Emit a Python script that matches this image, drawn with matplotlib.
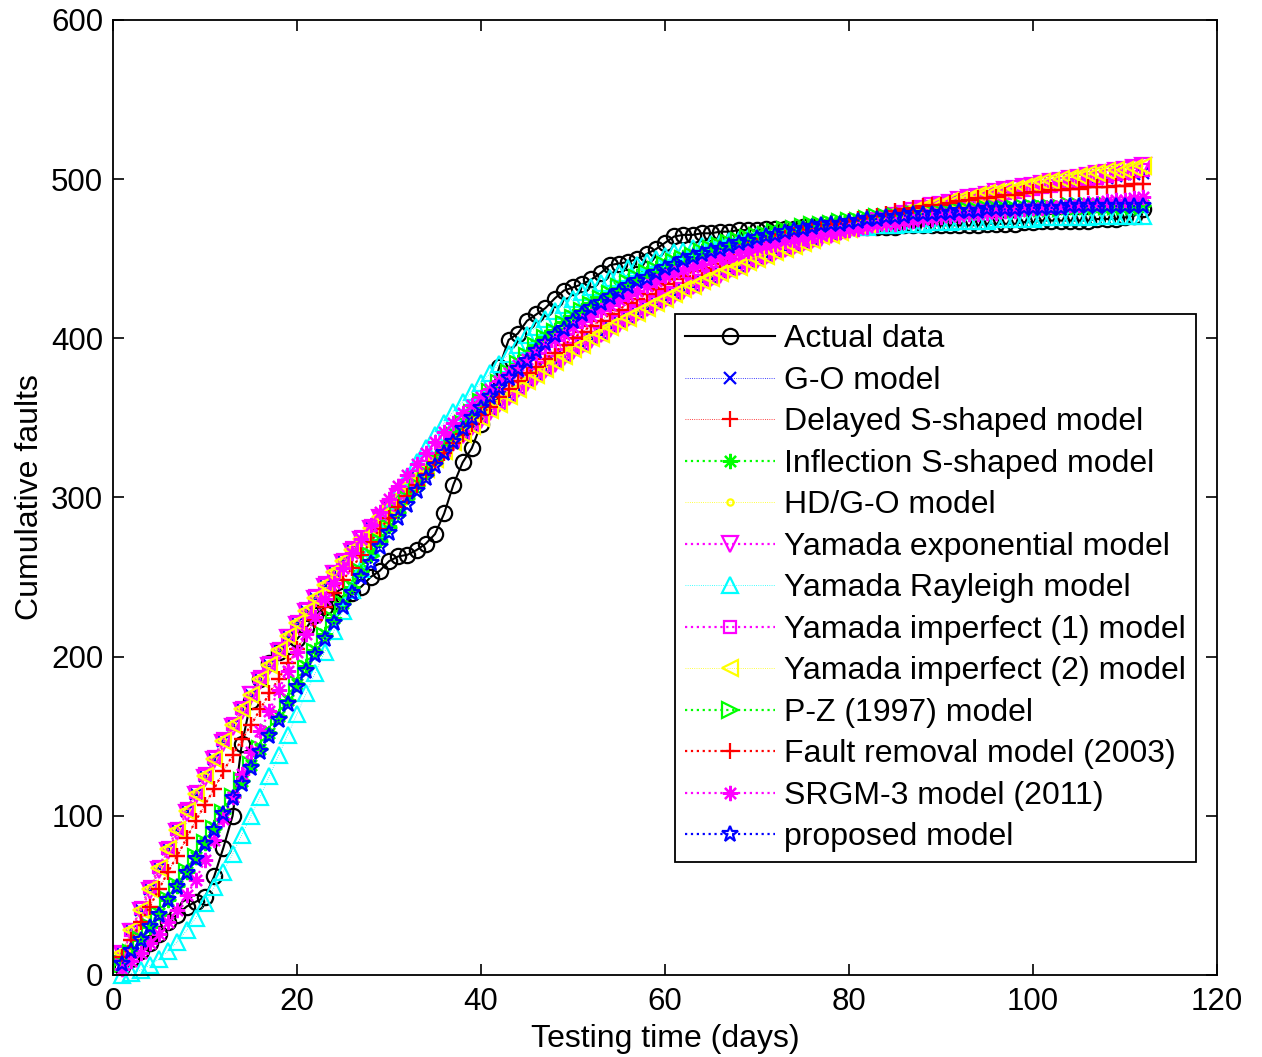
import matplotlib
matplotlib.use("Agg")
import matplotlib.pyplot as plt

plt.rcParams['font.family'] = ['Liberation Sans', 'DejaVu Sans']

days = list(range(1, 113))

actual_data = [5, 10, 15, 20, 26, 33, 38, 43, 46, 49,
               62, 80, 100, 145, 172, 186, 196, 203, 207, 211,
               218, 226, 231, 235, 238, 240, 244, 250, 254, 260,
               263, 264, 267, 271, 277, 290, 308, 322, 331, 346,
               364, 382, 399, 403, 411, 415, 419, 425, 430, 432,
               434, 437, 441, 446, 447, 448, 450, 453, 456, 460,
               464, 465, 465, 466, 466, 467, 467, 468, 468, 468,
               469, 469, 469, 469, 470, 470, 470, 470, 470, 470,
               470, 470, 470, 470, 470, 471, 471, 471, 471, 471,
               471, 471, 471, 471, 472, 472, 472, 472, 473, 473,
               474, 474, 474, 474, 474, 474, 475, 475, 475, 476,
               477, 481]

go_model = [14, 28, 41, 54, 67, 79, 91, 103, 114, 125,
            136, 147, 157, 167, 176, 186, 195, 204, 213, 221,
            229, 237, 245, 253, 260, 267, 274, 281, 288, 294,
            300, 307, 313, 318, 324, 329, 335, 340, 345, 350,
            355, 359, 364, 368, 373, 377, 381, 385, 389, 393,
            396, 400, 403, 407, 410, 413, 416, 419, 422, 425,
            428, 431, 433, 436, 438, 441, 443, 445, 448, 450,
            452, 454, 456, 458, 460, 462, 464, 465, 467, 469,
            470, 472, 474, 475, 477, 478, 479, 481, 482, 483,
            485, 486, 487, 488, 489, 490, 491, 492, 493, 494,
            495, 496, 497, 498, 499, 500, 500, 501, 502, 503,
            503, 504]

delayed_s = [11, 22, 33, 43, 54, 65, 75, 86, 97, 107,
             117, 128, 138, 148, 157, 167, 177, 186, 196, 205,
             214, 223, 231, 240, 248, 256, 264, 272, 280, 287,
             294, 301, 308, 315, 322, 328, 334, 340, 346, 352,
             357, 363, 368, 373, 378, 382, 387, 391, 396, 400,
             404, 408, 411, 415, 418, 422, 425, 428, 431, 434,
             437, 439, 442, 444, 447, 449, 451, 454, 456, 458,
             460, 461, 463, 465, 466, 468, 469, 471, 472, 474,
             475, 476, 477, 478, 480, 481, 482, 483, 484, 484,
             485, 486, 487, 488, 488, 489, 490, 490, 491, 492,
             492, 493, 493, 494, 494, 495, 495, 495, 496, 496,
             497, 497]

inflection_s = [7, 15, 22, 30, 39, 47, 56, 65, 74, 83,
                93, 102, 112, 122, 132, 142, 152, 163, 173, 183,
                194, 204, 214, 224, 234, 244, 254, 264, 273, 282,
                291, 300, 308, 316, 324, 332, 340, 347, 354, 361,
                367, 373, 379, 385, 390, 396, 401, 405, 410, 414,
                418, 422, 426, 429, 432, 436, 439, 441, 444, 446,
                449, 451, 453, 455, 457, 459, 460, 462, 463, 465,
                466, 467, 468, 469, 470, 471, 472, 473, 473, 474,
                475, 475, 476, 477, 477, 478, 478, 478, 479, 479,
                480, 480, 481, 481, 481, 482, 482, 482, 482, 483,
                483, 483, 483, 483, 483, 484, 484, 484, 484, 484,
                484, 484]

hd_go = [14, 28, 41, 54, 67, 79, 91, 103, 114, 125,
         136, 147, 157, 167, 176, 186, 195, 204, 213, 221,
         229, 237, 245, 253, 260, 267, 274, 281, 288, 294,
         300, 307, 313, 318, 324, 329, 335, 340, 345, 350,
         355, 359, 364, 368, 373, 377, 381, 385, 389, 393,
         396, 400, 403, 407, 410, 413, 416, 419, 422, 425,
         428, 431, 433, 436, 438, 441, 443, 445, 448, 450,
         452, 454, 456, 458, 460, 462, 464, 465, 467, 469,
         470, 472, 474, 475, 477, 478, 479, 481, 482, 483,
         485, 486, 487, 488, 489, 490, 491, 492, 493, 494,
         495, 496, 497, 498, 499, 500, 500, 501, 502, 503,
         503, 504]

yamada_exp = [13, 27, 40, 53, 66, 78, 90, 102, 113, 124,
              135, 146, 156, 166, 176, 185, 194, 203, 212, 220,
              228, 236, 244, 252, 259, 266, 273, 280, 287, 293,
              300, 306, 312, 318, 323, 329, 334, 339, 344, 349,
              354, 359, 363, 368, 372, 376, 380, 384, 388, 392,
              396, 399, 403, 406, 409, 413, 416, 419, 422, 425,
              427, 430, 433, 435, 438, 440, 443, 445, 447, 449,
              452, 454, 456, 458, 460, 462, 463, 465, 467, 469,
              470, 472, 474, 475, 477, 478, 480, 481, 483, 484,
              485, 487, 488, 489, 490, 492, 493, 494, 495, 496,
              497, 498, 499, 500, 501, 502, 503, 504, 505, 506,
              507, 508]

yamada_rayleigh = [0, 1, 3, 6, 10, 15, 21, 28, 36, 45,
                   55, 65, 76, 88, 100, 112, 125, 138, 151, 164,
                   177, 190, 203, 216, 229, 242, 255, 268, 280, 292,
                   303, 313, 322, 331, 339, 347, 354, 360, 366, 372,
                   378, 384, 390, 396, 402, 407, 412, 417, 421, 425,
                   429, 432, 435, 438, 441, 444, 446, 448, 450, 452,
                   454, 455, 457, 458, 459, 460, 461, 462, 463, 464,
                   465, 465, 466, 467, 467, 468, 468, 469, 469, 470,
                   470, 470, 471, 471, 471, 472, 472, 472, 473, 473,
                   473, 474, 474, 474, 474, 475, 475, 475, 475, 475,
                   476, 476, 476, 476, 476, 476, 477, 477, 477, 477,
                   477, 477]

yamada_imp1 = [14, 28, 42, 55, 68, 80, 92, 104, 115, 126,
               137, 148, 158, 168, 177, 187, 196, 205, 213, 222,
               230, 238, 246, 253, 261, 268, 275, 282, 288, 295,
               301, 307, 313, 319, 324, 330, 335, 340, 345, 350,
               355, 360, 364, 369, 373, 377, 381, 385, 389, 393,
               396, 400, 403, 407, 410, 413, 416, 419, 422, 425,
               428, 431, 433, 436, 438, 441, 443, 445, 448, 450,
               452, 454, 456, 458, 460, 462, 464, 465, 467, 469,
               470, 472, 473, 475, 476, 478, 479, 481, 482, 483,
               484, 486, 487, 488, 489, 490, 491, 492, 493, 494,
               495, 496, 497, 498, 499, 500, 501, 502, 503, 504,
               505, 506]

yamada_imp2 = [14, 28, 41, 54, 67, 79, 91, 103, 114, 125,
               136, 147, 157, 167, 176, 186, 195, 204, 213, 221,
               229, 237, 245, 253, 260, 267, 274, 281, 288, 294,
               300, 307, 313, 318, 324, 329, 335, 340, 345, 350,
               355, 359, 364, 368, 373, 377, 381, 385, 389, 393,
               396, 400, 403, 407, 410, 413, 416, 419, 422, 425,
               428, 431, 433, 436, 438, 441, 443, 445, 448, 450,
               452, 454, 456, 458, 460, 462, 464, 465, 467, 469,
               471, 472, 474, 476, 477, 479, 480, 482, 483, 484,
               486, 487, 488, 490, 491, 492, 493, 494, 495, 497,
               498, 499, 500, 501, 502, 503, 504, 505, 506, 506,
               507, 508]

pz_1997 = [7, 14, 22, 30, 38, 47, 56, 65, 74, 83,
           92, 102, 112, 122, 132, 142, 152, 162, 172, 183,
           193, 203, 213, 223, 233, 243, 253, 263, 272, 281,
           290, 299, 307, 315, 323, 331, 339, 346, 353, 360,
           366, 372, 378, 384, 389, 395, 400, 404, 409, 413,
           417, 421, 425, 428, 432, 435, 438, 441, 443, 446,
           448, 450, 452, 454, 456, 458, 460, 461, 463, 464,
           465, 467, 468, 469, 470, 471, 471, 472, 473, 474,
           474, 475, 476, 476, 477, 477, 478, 478, 479, 479,
           479, 480, 480, 480, 481, 481, 481, 481, 482, 482,
           482, 482, 482, 483, 483, 483, 483, 483, 483, 483,
           483, 483]

fault_removal = [11, 22, 33, 43, 54, 65, 75, 86, 97, 107,
                 117, 128, 138, 148, 157, 167, 177, 186, 196, 205,
                 214, 223, 231, 240, 248, 256, 264, 272, 280, 287,
                 294, 301, 308, 315, 322, 328, 334, 340, 346, 352,
                 357, 363, 368, 373, 378, 382, 387, 391, 396, 400,
                 404, 408, 411, 415, 418, 422, 425, 428, 431, 434,
                 437, 439, 442, 444, 447, 449, 451, 454, 456, 458,
                 460, 461, 463, 465, 466, 468, 469, 471, 472, 474,
                 475, 476, 477, 478, 480, 481, 482, 483, 484, 484,
                 485, 486, 487, 488, 488, 489, 490, 490, 491, 492,
                 492, 493, 493, 494, 494, 495, 495, 495, 496, 496,
                 497, 497]

srgm3 = [4, 9, 14, 20, 26, 33, 41, 50, 60, 72,
         85, 98, 112, 126, 140, 153, 166, 179, 191, 203,
         214, 225, 236, 246, 256, 265, 274, 283, 291, 299,
         307, 314, 321, 328, 335, 341, 347, 353, 358, 363,
         368, 373, 378, 383, 387, 391, 395, 399, 403, 407,
         411, 414, 418, 421, 424, 427, 430, 433, 436, 439,
         441, 443, 445, 447, 449, 451, 452, 454, 455, 457,
         458, 459, 461, 462, 463, 464, 465, 466, 467, 468,
         469, 470, 471, 472, 472, 473, 474, 475, 475, 476,
         477, 477, 478, 478, 479, 479, 480, 480, 481, 482,
         482, 483, 483, 484, 484, 485, 485, 486, 487, 487,
         488, 489]

proposed = [7, 15, 22, 30, 38, 47, 55, 64, 73, 82,
            91, 101, 111, 120, 130, 140, 150, 160, 170, 181,
            191, 201, 211, 221, 231, 240, 250, 259, 269, 278,
            287, 295, 304, 312, 320, 328, 335, 343, 350, 356,
            363, 369, 375, 381, 386, 392, 397, 402, 406, 411,
            415, 419, 422, 426, 429, 433, 436, 438, 441, 444,
            446, 449, 451, 453, 455, 456, 458, 460, 461, 463,
            464, 465, 467, 468, 469, 470, 471, 472, 472, 473,
            474, 475, 475, 476, 476, 477, 478, 478, 478, 479,
            479, 480, 480, 480, 481, 481, 481, 481, 482, 482,
            482, 482, 482, 483, 483, 483, 483, 483, 483, 483,
            483, 483]

labels = ["Actual data", "G-O model", "Delayed S-shaped model",
          "Inflection S-shaped model", "HD/G-O model",
          "Yamada exponential model", "Yamada Rayleigh model",
          "Yamada imperfect (1) model", "Yamada imperfect (2) model",
          "P-Z (1997) model", "Fault removal model (2003)",
          "SRGM-3 model (2011)", "proposed model"]

x_ticks = [0, 20, 40, 60, 80, 100, 120]
y_ticks = [0, 100, 200, 300, 400, 500, 600]

ast = (8, 2, 0)
# (data, color, marker, linewidth, markersize)
styles = [
    (go_model, '#0000ff', 'x', 0.6, 8),
    (delayed_s, '#ff0000', '+', 0.6, 11),
    (inflection_s, '#00ff00', ast, 1.6, 11),
    (hd_go, '#ffff00', '.', 0.6, 9),
    (yamada_exp, '#ff00ff', 'v', 1.6, 11),
    (yamada_rayleigh, '#00ffff', '^', 0.6, 11),
    (yamada_imp1, '#ff00ff', 's', 1.6, 9),
    (yamada_imp2, '#ffff00', '<', 0.6, 11),
    (pz_1997, '#00ff00', '>', 1.6, 11),
    (fault_removal, '#ff0000', '+', 1.6, 11),
    (srgm3, '#ff00ff', ast, 1.6, 11),
    (proposed, '#0000ff', '*', 1.6, 12),
]

fig = plt.figure(figsize=(12.62, 10.57), dpi=100)
ax = fig.add_axes([113 / 1262, 1 - 975 / 1057, (1217 - 113) / 1262, (975 - 20) / 1057])

handles = []
h, = ax.plot(list(range(1, len(actual_data) + 1)), actual_data, '-', color='k', lw=1.5,
             marker='o', mfc='none', mec='k', ms=11, mew=1.6, clip_on=False)
handles.append(h)
for data, col, mk, lw, ms in styles:
    t = list(range(1, len(data) + 1))
    h, = ax.plot(t, data, linestyle=':', color=col, lw=lw, marker=mk, ms=ms,
                 mfc='none', mec=col, mew=1.6, clip_on=False)
    handles.append(h)

ax.set_xlim(0, 120)
ax.set_ylim(0, 600)
ax.set_xticks(x_ticks)
ax.set_yticks(y_ticks)
ax.tick_params(direction='in', length=8, width=1.2, top=True, right=True,
               labelsize=22.5)
ax.tick_params(axis='x', pad=9)
ax.tick_params(axis='y', pad=7)
for s in ax.spines.values():
    s.set_linewidth(1.3)

ax.set_xlabel("Testing time (days)", fontsize=23, labelpad=5)
ax.set_ylabel("Cumulative faults", fontsize=23, labelpad=4)

leg = ax.legend(handles, labels, loc='upper left',
                bbox_to_anchor=((675 - 113) / 1104, (975 - 314) / 955),
                fontsize=23, frameon=True, fancybox=False, framealpha=1,
                edgecolor='k', handlelength=2.8, handletextpad=0.28,
                labelspacing=0.36, borderpad=0.32, borderaxespad=0)
leg.get_frame().set_linewidth(1.3)

fig.savefig("out.png", dpi=100)
